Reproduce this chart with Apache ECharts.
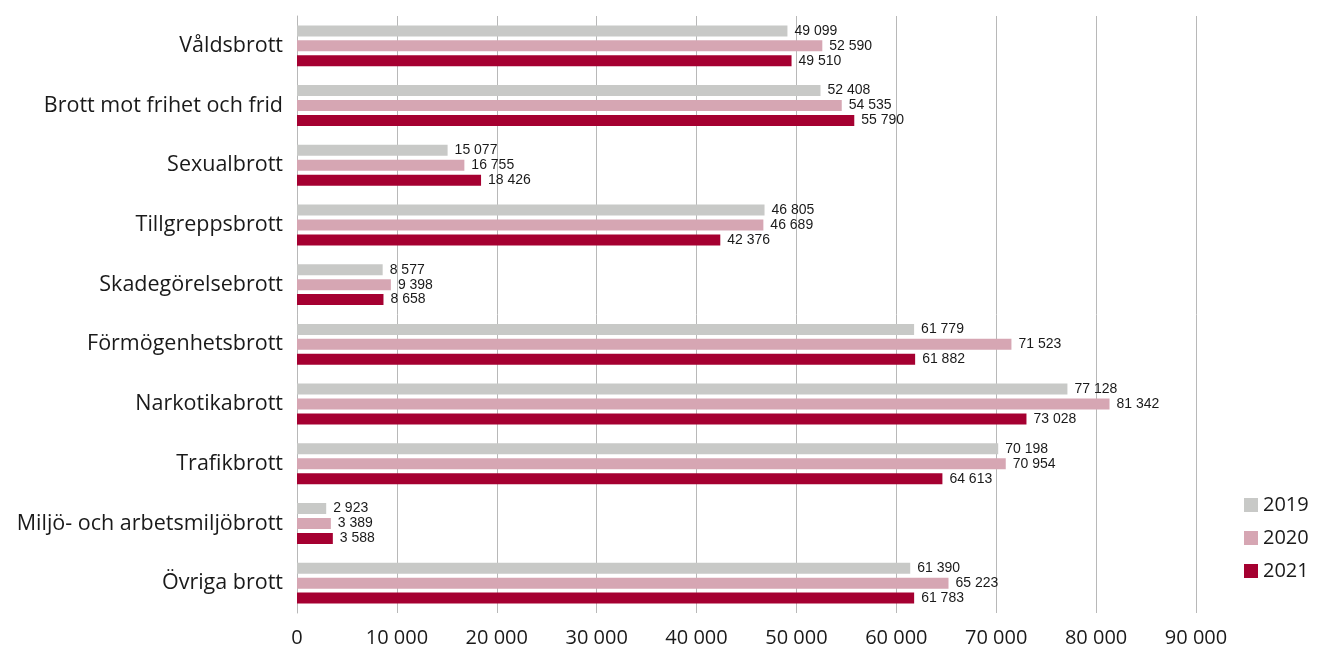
<!DOCTYPE html>
<html><head><meta charset="utf-8">
<script src="https://cdn.jsdelivr.net/npm/echarts@6/dist/echarts.min.js"></script>
<style>html,body{margin:0;padding:0;background:#fff}#c{width:1317px;height:648px}</style>
</head><body><div id="c"></div>
<script>
const categories = ['Våldsbrott','Brott mot frihet och frid','Sexualbrott','Tillgreppsbrott','Skadegörelsebrott','Förmögenhetsbrott','Narkotikabrott','Trafikbrott','Miljö- och arbetsmiljöbrott','Övriga brott'];
const years = ['2019','2020','2021'];
const values2019 = [49099,52408,15077,46805,8577,61779,77128,70198,2923,61390];
const values2020 = [52590,54535,16755,46689,9398,71523,81342,70954,3389,65223];
const values2021 = [49510,55790,18426,42376,8658,61882,73028,64613,3588,61783];
const colors = ['#c8c9c7','#d6a6b3','#a50031'];

const fmt = v => String(v).replace(/\B(?=(\d{3})+(?!\d))/g, ' ');
const chart = echarts.init(document.getElementById('c'));
const mk = (name, data, i) => ({
  name, type: 'bar', data, barWidth: 11, barGap: '36%',
  itemStyle: {color: colors[i]},
  label: {show: true, position: 'right', distance: 7, formatter: p => fmt(p.value),
    fontFamily: 'Liberation Sans', fontSize: 14, color: '#1a1a1a'}
});
const labelFont = {fontFamily: 'Open Sans', fontSize: 20, color: '#1a1a1a'};
chart.setOption({
  animation: false,
  grid: {left: 297, right: 121, top: 16, bottom: 35, containLabel: false},
  legend: {orient: 'vertical', left: 1239, top: 490, itemWidth: 14, itemHeight: 14, itemGap: 13,
    icon: 'rect', textStyle: labelFont, data: years},
  xAxis: {type: 'value', min: 0, max: 90000, interval: 10000,
    axisLine: {show: false}, axisTick: {show: false},
    splitLine: {show: true, lineStyle: {color: '#b8b8b8', width: 1}},
    axisLabel: Object.assign({formatter: v => fmt(v), margin: 15}, labelFont)},
  yAxis: {type: 'category', data: categories, inverse: true,
    axisLine: {show: true, lineStyle: {color: '#b8b8b8'}}, axisTick: {show: false},
    axisLabel: Object.assign({margin: 14}, labelFont, {fontSize: 21.5})},
  series: [mk(years[0], values2019, 0), mk(years[1], values2020, 1), mk(years[2], values2021, 2)]
});
</script></body></html>
